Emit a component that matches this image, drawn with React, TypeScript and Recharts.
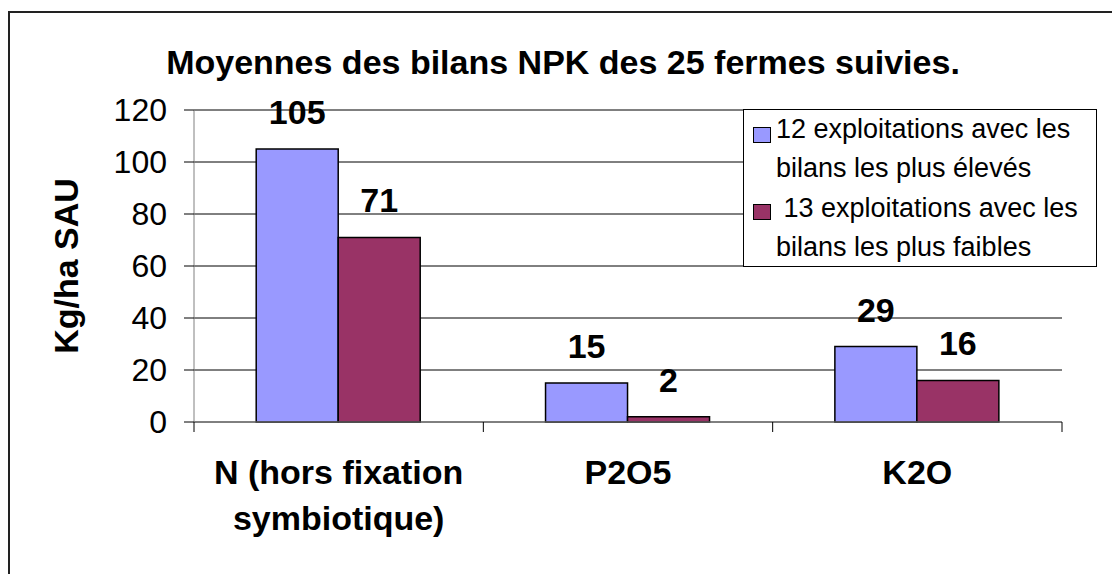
import React from 'react';
import { BarChart, Bar, XAxis, YAxis, CartesianGrid, Legend, LabelList } from 'recharts';

// ─── Data ──────────────────────────────────────────────────────────────────
const categories = ['N (hors fixation\nsymbiotique)', 'P2O5', 'K2O'];
const highestBalances = [105, 15, 29];
const lowestBalances = [71, 2, 16];
const seriesNames = [
  '12 exploitations avec les bilans les plus élevés',
  ' 13 exploitations avec les bilans les plus faibles',
];
const seriesColors = ['#9999FF', '#993366'];
const yTicks = [0, 20, 40, 60, 80, 100, 120];

const chartData = categories.map((name, i) => ({
  name,
  high: highestBalances[i],
  low: lowestBalances[i],
}));

const FONT = '"Liberation Sans", Arial, Helvetica, sans-serif';

// ─── Custom ticks / labels ─────────────────────────────────────────────────
const YTick = (props: any) => {
  const { x, y, payload } = props;
  return (
    <text x={x} y={y} textAnchor="end" dominantBaseline="central" fontSize={32} fontFamily={FONT} fill="#000">
      {payload.value}
    </text>
  );
};

// category label + boundary tick marks (band edges from the axis scale)
const CategoryTick = (props: any) => {
  const { x, y, payload, index } = props;
  const half = Number(payload.offset) || 0;
  const lines = String(payload.value).split('\n');
  const isLast = index === categories.length - 1;
  return (
    <g>
      <line x1={x - half} x2={x - half} y1={y} y2={y + 10} stroke="#000" />
      {isLast && <line x1={x + half} x2={x + half} y1={y} y2={y + 10} stroke="#000" />}
      <text x={x} y={y} textAnchor="middle" fontSize={34} fontWeight="bold" fontFamily={FONT} fill="#000">
        {lines.map((line, i) => (
          <tspan key={i} x={x} dy={i === 0 ? 62 : 46}>{line}</tspan>
        ))}
      </text>
    </g>
  );
};

const BarValue = (props: any) => {
  const { x, y, width, value } = props;
  return (
    <text x={Number(x) + Number(width) / 2} y={Number(y) - 25} textAnchor="middle" fontSize={34} fontWeight="bold" fontFamily={FONT} fill="#000">
      {value}
    </text>
  );
};

const YLabel = (props: any) => {
  const vb = props.viewBox || { x: 0, y: 110, width: 194, height: 312 };
  const cx = vb.x + 78;
  const cy = vb.y + vb.height / 2;
  return (
    <text x={cx} y={cy} transform={`rotate(-90, ${cx}, ${cy})`} textAnchor="middle" fontSize={34} fontWeight="bold" fontFamily={FONT} fill="#000">
      Kg/ha SAU
    </text>
  );
};

const LegendBox = () => (
  <div style={{
    position: 'relative', width: 354, height: 158, boxSizing: 'border-box',
    border: '1.5px solid #000', background: '#fff', fontFamily: FONT, fontSize: 27,
    lineHeight: '39px', color: '#000',
  }}>
    {seriesNames.map((name, i) => (
      <React.Fragment key={i}>
        <div style={{
          position: 'absolute', left: 9, top: 17 + i * 77, width: 18, height: 16,
          boxSizing: 'border-box', border: '1px solid #000', background: seriesColors[i],
        }} />
        <div style={{ position: 'absolute', left: 32, top: 0 + i * 79, width: 318, whiteSpace: 'pre-wrap' }}>
          {name}
        </div>
      </React.Fragment>
    ))}
  </div>
);

// ─── Chart ─────────────────────────────────────────────────────────────────
export default function App() {
  return (
    <div style={{ position: 'absolute', left: 0, top: 0, width: 1112, height: 574, overflow: 'hidden', background: '#fff' }}>
      <div style={{
        position: 'absolute', left: 8, top: 11, width: 1300, height: 800,
        borderTop: '2px solid #222', borderLeft: '2px solid #222',
      }} />
      <div style={{
        position: 'absolute', left: 0, top: 45, width: 1126, textAlign: 'center',
        fontFamily: FONT, fontSize: 34, fontWeight: 'bold', lineHeight: '34px', color: '#000',
      }}>
        Moyennes des bilans NPK des 25 fermes suivies.
      </div>
      <BarChart
        width={1112}
        height={574}
        data={chartData}
        margin={{ top: 110, right: 50, left: 0, bottom: 52 }}
        barCategoryGap="21.5%"
        barGap={0}
        style={{ position: 'absolute', left: 0, top: 0 }}
      >
        <CartesianGrid vertical={false} stroke="#000" />
        <XAxis
          dataKey="name"
          height={100}
          interval={0}
          axisLine={{ stroke: '#808080' }}
          tickLine={false}
          tickSize={0}
          tickMargin={0}
          tick={<CategoryTick />}
        />
        <YAxis
          width={194}
          domain={[0, 120]}
          ticks={yTicks}
          interval={0}
          tickSize={10}
          tickMargin={17}
          axisLine={{ stroke: '#808080' }}
          tickLine={{ stroke: '#000' }}
          tick={<YTick />}
          label={{ content: <YLabel /> }}
        />
        <Legend
          layout="horizontal"
          verticalAlign="middle"
          align="center"
          wrapperStyle={{ left: 743, top: 109, width: 354, height: 158 }}
          content={<LegendBox />}
        />
        <Bar dataKey="high" name={seriesNames[0]} fill={seriesColors[0]} stroke="#000" strokeWidth={1.5} isAnimationActive={false}>
          <LabelList dataKey="high" content={<BarValue />} />
        </Bar>
        <Bar dataKey="low" name={seriesNames[1]} fill={seriesColors[1]} stroke="#000" strokeWidth={1.5} isAnimationActive={false}>
          <LabelList dataKey="low" content={<BarValue />} />
        </Bar>
      </BarChart>
    </div>
  );
}
